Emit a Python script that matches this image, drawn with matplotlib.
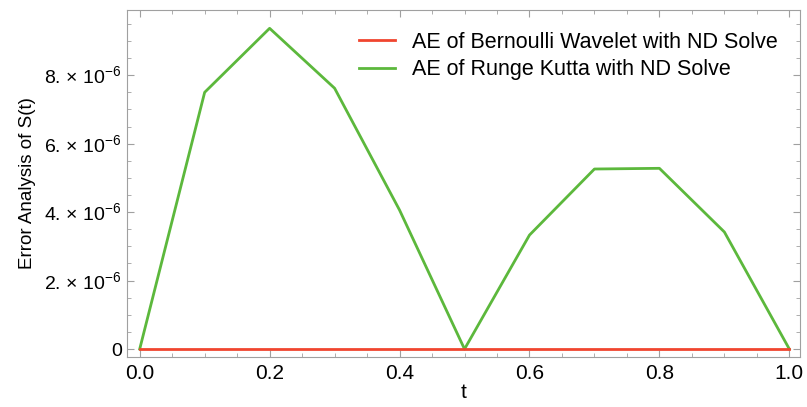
import numpy as np
import matplotlib
matplotlib.use("Agg")
import matplotlib.pyplot as plt
from matplotlib.ticker import FuncFormatter, MultipleLocator

plt.rcParams["font.family"] = ["Liberation Sans", "DejaVu Sans"]
plt.rcParams["mathtext.fontset"] = "custom"
plt.rcParams["mathtext.rm"] = "Liberation Sans"

# Absolute errors at the collocation points
t = [0.0, 0.1, 0.2, 0.3, 0.4, 0.5, 0.6, 0.7, 0.8, 0.9, 1.0]
ae_bernoulli = [0.0] * 11
ae_runge_kutta = [0.0, 7.5e-6, 9.37e-6, 7.62e-6, 4.06e-6, 0.0,
                  3.33e-6, 5.26e-6, 5.28e-6, 3.42e-6, 0.0]

RED = "#f0452f"
GREEN = "#5cb83c"
FRAME = "#a0a0a0"


def sci_label(v, pos):
    if abs(v) < 1e-12:
        return "0"
    m = v / 1e-6
    return r"%d. $\times$ 10$^{-6}$" % round(m)


fig = plt.figure(figsize=(8.07, 4.07), dpi=100)
ax = fig.add_axes([0.157, 0.123, 0.834, 0.852])

ax.plot(t, ae_bernoulli, color=RED, lw=2, label="AE of Bernoulli Wavelet with ND Solve", zorder=3)
ax.plot(t, ae_runge_kutta, color=GREEN, lw=2, label="AE of Runge Kutta with ND Solve", zorder=2)

ax.set_xlim(-0.02, 1.016)
ax.set_ylim(-0.23e-6, 9.9e-6)

ax.xaxis.set_major_locator(MultipleLocator(0.2))
ax.xaxis.set_minor_locator(MultipleLocator(0.05))
ax.yaxis.set_major_locator(MultipleLocator(2e-6))
ax.yaxis.set_minor_locator(MultipleLocator(0.5e-6))
ax.xaxis.set_major_formatter(FuncFormatter(lambda v, p: "%.1f" % v))
ax.yaxis.set_major_formatter(FuncFormatter(sci_label))

ax.tick_params(which="both", direction="in", color=FRAME, top=True, right=True)
ax.tick_params(axis="x", labelsize=15, pad=5)
ax.tick_params(axis="y", labelsize=14)
ax.tick_params(which="major", length=5)
ax.tick_params(which="minor", length=3)
for s in ax.spines.values():
    s.set_color(FRAME)

ax.set_xlabel("t", fontsize=15, labelpad=0)
ax.set_ylabel("Error Analysis of S(t)", fontsize=13.5, labelpad=6)

ax.legend(loc="upper right", frameon=False, fontsize=15.5, handlelength=1.7,
          borderaxespad=0.6, labelspacing=0.3, handletextpad=0.8)

fig.savefig("out.png", dpi=100)
